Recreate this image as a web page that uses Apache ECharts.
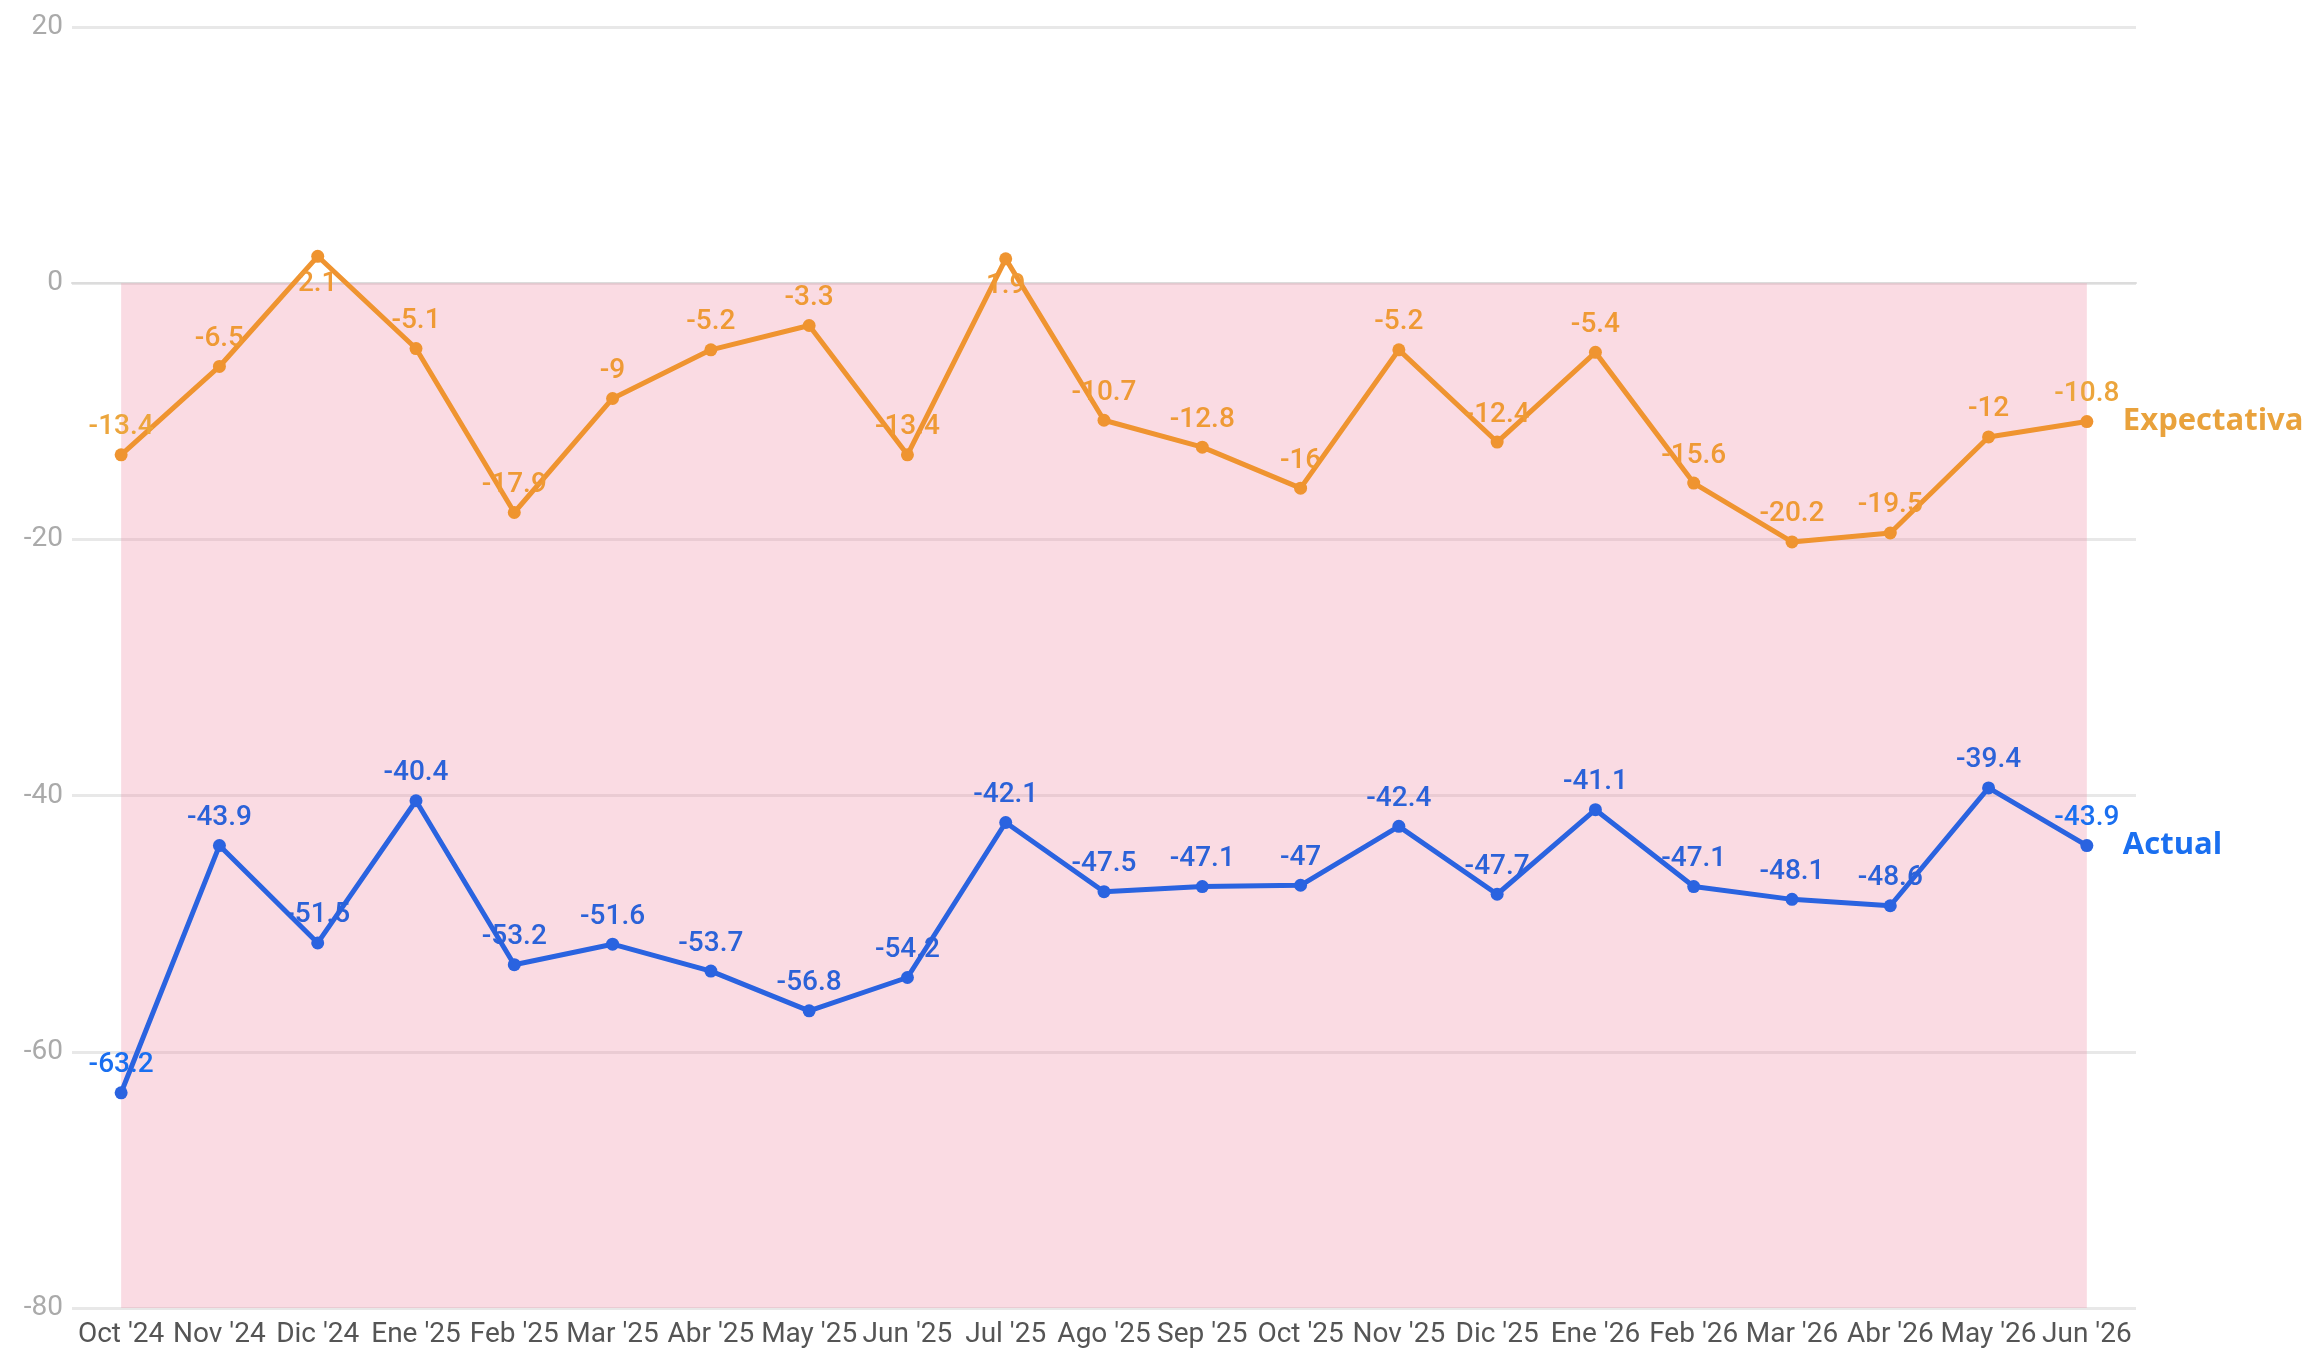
<!DOCTYPE html>
<html>
<head>
<meta charset="utf-8">
<script src="https://cdn.jsdelivr.net/npm/echarts@6/dist/echarts.min.js"></script>
<style>
html,body{margin:0;padding:0;background:#fff;}
#chart{width:2308px;height:1349px;}
</style>
</head>
<body>
<div id="chart"></div>
<script>
var months = ["Oct '24","Nov '24","Dic '24","Ene '25","Feb '25","Mar '25","Abr '25","May '25","Jun '25","Jul '25","Ago '25","Sep '25","Oct '25","Nov '25","Dic '25","Ene '26","Feb '26","Mar '26","Abr '26","May '26","Jun '26"];
var expectativa = [-13.4,-6.5,2.1,-5.1,-17.9,-9,-5.2,-3.3,-13.4,1.9,-10.7,-12.8,-16,-5.2,-12.4,-5.4,-15.6,-20.2,-19.5,-12,-10.8];
var actual = [-63.2,-43.9,-51.5,-40.4,-53.2,-51.6,-53.7,-56.8,-54.2,-42.1,-47.5,-47.1,-47,-42.4,-47.7,-41.1,-47.1,-48.1,-48.6,-39.4,-43.9];
var yTicks = [-80,-60,-40,-20,0,20];

var orange = '#ef9430';
var blue = '#2a63e0';

// labels go under the point when it sits above zero
function points(vals, endColor){
  return vals.map(function(v, i){
    var item = {value: v};
    var lab = {};
    if (v > 0) lab.position = 'bottom';
    if (i == 0 || i == vals.length - 1) lab.color = endColor;
    item.label = lab;
    return item;
  });
}

var chart = echarts.init(document.getElementById('chart'));
chart.setOption({
  animation: false,
  grid: {left: 72, right: 172, top: 27, bottom: 39},
  xAxis: {
    type: 'category',
    data: months,
    boundaryGap: true,
    axisLine: {lineStyle: {color: '#dcdcdc', width: 2}},
    axisTick: {alignWithLabel: true, length: 9, lineStyle: {color: '#dcdcdc', width: 2}},
    axisLabel: {interval: 0, color: '#555', fontSize: 28, margin: 13, fontFamily: 'Roboto'}
  },
  yAxis: {
    type: 'value',
    min: yTicks[0],
    max: yTicks[yTicks.length - 1],
    interval: 20,
    axisLine: {show: false},
    axisTick: {show: false},
    axisLabel: {color: '#aaaaaa', fontSize: 28, margin: 9, fontFamily: 'Roboto'},
    splitLine: {lineStyle: {color: '#e8e8e8', width: 3}}
  },
  series: [
    {
      name: 'Expectativa',
      type: 'line',
      data: points(expectativa, '#eca53c'),
      symbol: 'circle',
      symbolSize: 13,
      itemStyle: {color: orange},
      lineStyle: {color: orange, width: 5},
      label: {show: true, position: 'top', distance: 7, color: '#ef9a35', fontSize: 28, fontWeight: 500, fontFamily: 'Roboto'},
      endLabel: {show: true, formatter: '{a}', color: '#e9a23c', fontSize: 31, fontWeight: 'bold', fontFamily: "'Open Sans',Roboto", distance: 36},
      markArea: {
        silent: true,
        itemStyle: {color: 'rgba(238,135,162,0.3)'},
        data: [[{xAxis: months[0], yAxis: 0}, {xAxis: months[months.length - 1], yAxis: -80}]]
      },
      z: 3
    },
    {
      name: 'Actual',
      type: 'line',
      data: points(actual, '#1a6ff0'),
      symbol: 'circle',
      symbolSize: 13,
      itemStyle: {color: blue},
      lineStyle: {color: blue, width: 5},
      label: {show: true, position: 'top', distance: 7, color: '#2b62d8', fontSize: 28, fontWeight: 500, fontFamily: 'Roboto'},
      endLabel: {show: true, formatter: '{a}', color: '#1a6ff0', fontSize: 31, fontWeight: 'bold', fontFamily: "'Open Sans',Roboto", distance: 36},
      z: 4
    }
  ]
});
</script>
</body>
</html>
